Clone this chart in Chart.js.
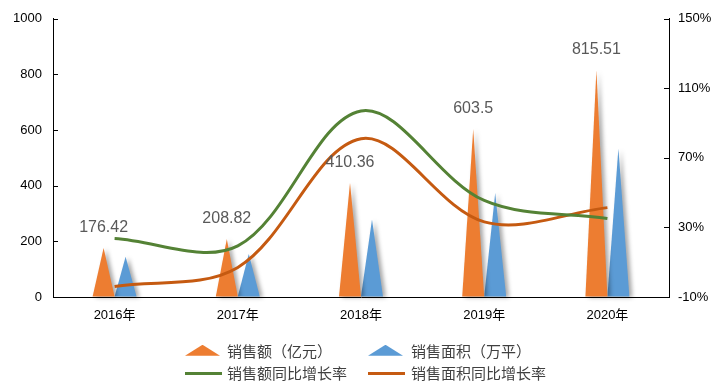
<!DOCTYPE html>
<html>
<head>
<meta charset="utf-8">
<script src="https://cdn.jsdelivr.net/npm/chart.js@4.4.1/dist/chart.umd.min.js"></script>
<style>
  html, body { margin: 0; padding: 0; background: #fff; }
  #wrap { position: relative; width: 720px; height: 390px; }
  #c { position: absolute; left: 0; top: 0; }
  .lg { position: absolute; font-family: "Noto Sans CJK SC", "Noto Sans", sans-serif; font-size: 15px; color: #404040; line-height: 18px; white-space: nowrap; }
  .ico { position: absolute; }
</style>
</head>
<body>
<div id="wrap">
  <canvas id="c" width="720" height="390"></canvas>
  <div id="legend"></div>
</div>
<script>
const categories = ['2016年', '2017年', '2018年', '2019年', '2020年'];
const salesAmount = [176.42, 208.82, 410.36, 603.5, 815.51];   // 销售额（亿元）
const salesArea = [145, 155, 279, 374, 534];                    // 销售面积（万平）
const amountGrowth = [23.6, 19.4, 97, 45.5, 35.2];               // 销售额同比增长率 (%)
const areaGrowth = [-3.9, 7, 81, 33.2, 41.4];                    // 销售面积同比增长率 (%)
const leftAxis = { min: 0, max: 1000, step: 200 };
const rightAxis = { min: -10, max: 150, step: 40 };

const ORANGE = '#ED7D31', BLUE = '#5B9BD5', GREEN = '#548235', DORANGE = '#C55A11';

const trianglePlugin = {
  id: 'triangles',
  afterDatasetDraw(chart, args) {
    const meta = args.meta;
    if (meta.type !== 'bar') return;
    const ds = chart.data.datasets[args.index];
    const ctx = chart.ctx;
    ctx.save();
    ctx.shadowColor = 'rgba(0,0,0,0.35)';
    ctx.shadowBlur = 4;
    ctx.shadowOffsetX = 3;
    ctx.shadowOffsetY = 1;
    ctx.fillStyle = ds.triColor;
    meta.data.forEach(el => {
      const half = el.width / 2;
      ctx.beginPath();
      ctx.moveTo(el.x - half, el.base);
      ctx.lineTo(el.x, el.y);
      ctx.lineTo(el.x + half, el.base);
      ctx.closePath();
      ctx.fill();
    });
    ctx.restore();
  },
  afterDatasetsDraw(chart) {
    const meta = chart.getDatasetMeta(0);
    const ctx = chart.ctx;
    ctx.save();
    ctx.font = '16px "Liberation Sans", Arial, sans-serif';
    ctx.fillStyle = '#595959';
    ctx.textAlign = 'center';
    ctx.textBaseline = 'middle';
    meta.data.forEach((el, i) => {
      ctx.fillText(String(salesAmount[i]), el.x, el.y - 20.5);
    });
    ctx.restore();
  },
  afterDraw(chart) {
    const ctx = chart.ctx;
    const ca = chart.chartArea;
    ctx.save();
    ctx.strokeStyle = '#000';
    ctx.lineWidth = 1;
    ['y', 'y1'].forEach(id => {
      const s = chart.scales[id];
      s.ticks.forEach((t, i) => {
        const py = Math.round(s.getPixelForTick(i)) + 0.5;
        ctx.beginPath();
        if (id === 'y') { ctx.moveTo(ca.left, py); ctx.lineTo(ca.left + 5, py); }
        else { ctx.moveTo(ca.right - 5, py); ctx.lineTo(ca.right, py); }
        ctx.stroke();
      });
    });
    ctx.restore();
  }
};

const tickFont = { family: '"Liberation Sans", "Noto Sans CJK SC", Arial, sans-serif', size: 13 };

const chart = new Chart(document.getElementById('c'), {
  data: {
    labels: categories,
    datasets: [
      { type: 'bar', label: '销售额（亿元）', data: salesAmount, yAxisID: 'y', backgroundColor: 'rgba(0,0,0,0)', triColor: ORANGE, order: 2, categoryPercentage: 0.357, barPercentage: 1 },
      { type: 'bar', label: '销售面积（万平）', data: salesArea, yAxisID: 'y', backgroundColor: 'rgba(0,0,0,0)', triColor: BLUE, order: 2, categoryPercentage: 0.357, barPercentage: 1 },
      { type: 'line', label: '销售额同比增长率', data: amountGrowth, yAxisID: 'y1', borderColor: GREEN, borderWidth: 3, pointRadius: 0, tension: 0.34, order: 0 },
      { type: 'line', label: '销售面积同比增长率', data: areaGrowth, yAxisID: 'y1', borderColor: DORANGE, borderWidth: 3, pointRadius: 0, tension: 0.34, order: 0 }
    ]
  },
  options: {
    responsive: false,
    animation: false,
    layout: { padding: { top: 16, left: 0, right: 0, bottom: 0 } },
    plugins: { legend: { display: false }, tooltip: { enabled: false } },
    scales: {
      x: {
        offset: true,
        grid: { display: true, drawOnChartArea: false, drawTicks: false },
        border: { display: true, color: '#000', width: 1 },
        ticks: { color: '#000', font: tickFont, padding: 11 },
        afterFit(s) { s.height = 93; }
      },
      y: {
        position: 'left',
        min: leftAxis.min, max: leftAxis.max,
        grid: { drawOnChartArea: false, drawTicks: false },
        border: { display: true, color: '#000', width: 1 },
        ticks: { stepSize: leftAxis.step, color: '#000', font: tickFont, padding: 11, callback: v => String(v) },
        afterFit(s) { s.width = 53; }
      },
      y1: {
        position: 'right',
        min: rightAxis.min, max: rightAxis.max,
        grid: { drawOnChartArea: false, drawTicks: false },
        border: { display: true, color: '#000', width: 1 },
        ticks: { stepSize: rightAxis.step, color: '#000', font: tickFont, padding: 9, callback: v => v + '%' },
        afterFit(s) { s.width = 51; }
      }
    }
  },
  plugins: [trianglePlugin]
});

// HTML legend (2 x 2) built from datasets
const legendPos = [
  { ix: 185, tx: 227, cy: 350.7 },
  { ix: 368, tx: 411, cy: 350.7 },
  { ix: 185, tx: 227, cy: 373.3 },
  { ix: 368, tx: 411, cy: 373.3 }
];
const lg = document.getElementById('legend');
chart.data.datasets.forEach((ds, i) => {
  const p = legendPos[i];
  const ico = document.createElement('div');
  ico.className = 'ico';
  if (ds.type === 'bar') {
    ico.style.cssText = `left:${p.ix}px;top:${p.cy - 6}px;width:35px;height:11px;background:${ds.triColor};clip-path:polygon(0 100%,50% 0,100% 100%);`;
  } else {
    ico.style.cssText = `left:${p.ix}px;top:${p.cy - 1.5}px;width:37px;height:3px;background:${ds.borderColor};`;
  }
  lg.appendChild(ico);
  const t = document.createElement('div');
  t.className = 'lg';
  t.style.left = p.tx + 'px';
  t.style.top = (p.cy - 9) + 'px';
  t.textContent = ds.label;
  lg.appendChild(t);
});
</script>
</body>
</html>
